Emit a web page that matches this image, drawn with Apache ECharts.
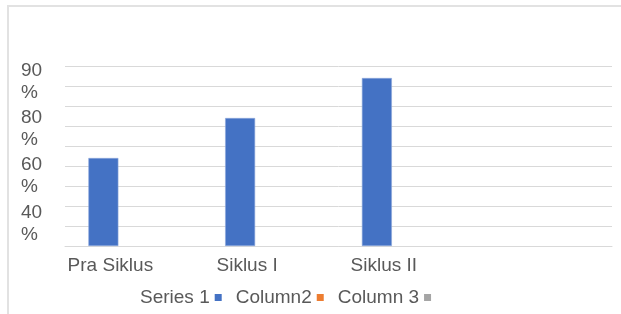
<!DOCTYPE html>
<html>
<head>
<meta charset="utf-8">
<script src="https://cdn.jsdelivr.net/npm/echarts@6/dist/echarts.min.js"></script>
<style>html,body{margin:0;padding:0;background:#fff}#c{width:621px;height:314px}</style>
</head>
<body>
<div id="c"></div>
<script>
var categories = ['Pra Siklus', 'Siklus I', 'Siklus II', ''];
var series1 = [44, 64, 84, null];
var column2 = [null, null, null, null];
var column3 = [null, null, null, null];
var seriesNames = ['Series 1', 'Column2', 'Column 3'];
var yTickLabels = ['90 %', '80 %', '60 %', '40 %'];

var chart = echarts.init(document.getElementById('c'));
var txt = '#595959';
var font = 'Liberation Sans, Arial, Helvetica, sans-serif';
chart.setOption({
  animation: false,
  color: ['#4472C4', '#ED7D31', '#A5A5A5'],
  textStyle: { fontFamily: font },
  graphic: [{
    type: 'rect', z: -10,
    shape: { x: 8, y: 6, width: 800, height: 500 },
    style: { fill: 'none', stroke: '#e2e2e2', lineWidth: 2 }
  }],
  grid: [
    { left: 65, right: 9, top: 66, bottom: 68 },
    { left: 65, right: 9, top: 58, bottom: 67 }
  ],
  legend: {
    left: 135, top: 283,
    align: 'right',
    icon: 'rect', itemWidth: 7, itemHeight: 7, itemGap: 14,
    itemStyle: { borderWidth: 0 },
    textStyle: { color: txt, fontSize: 19, fontFamily: font },
    data: seriesNames
  },
  xAxis: [{
    type: 'category', gridIndex: 0, data: categories,
    axisLine: { lineStyle: { color: '#d9d9d9', width: 1 } },
    axisTick: { show: false },
    axisLabel: { color: txt, fontSize: 19, margin: 10, padding: [0, 46, 0, 0], interval: 0, fontFamily: font }
  }, {
    type: 'category', gridIndex: 1, show: false, data: categories
  }],
  yAxis: [{
    type: 'value', gridIndex: 0, min: 0, max: 90, interval: 10,
    axisLine: { show: false }, axisTick: { show: false },
    axisLabel: { show: false },
    splitLine: { lineStyle: { color: '#d9d9d9', width: 1 } }
  }, {
    type: 'category', gridIndex: 1, inverse: true, data: yTickLabels,
    axisLine: { show: false }, axisTick: { show: false }, splitLine: { show: false },
    axisLabel: {
      color: txt, fontSize: 19, align: 'left', margin: 44, lineHeight: 22, fontFamily: font,
      formatter: function (v) { return v.replace(' ', '\n'); }
    }
  }],
  series: [
    { name: seriesNames[0], type: 'bar', data: series1, barWidth: 30, barGap: '0%',
      itemStyle: { borderColor: '#8FAADC', borderWidth: 0.6 } },
    { name: seriesNames[1], type: 'bar', data: column2, barWidth: 30, barGap: '0%' },
    { name: seriesNames[2], type: 'bar', data: column3, barWidth: 30, barGap: '0%' }
  ]
});
</script>
</body>
</html>
